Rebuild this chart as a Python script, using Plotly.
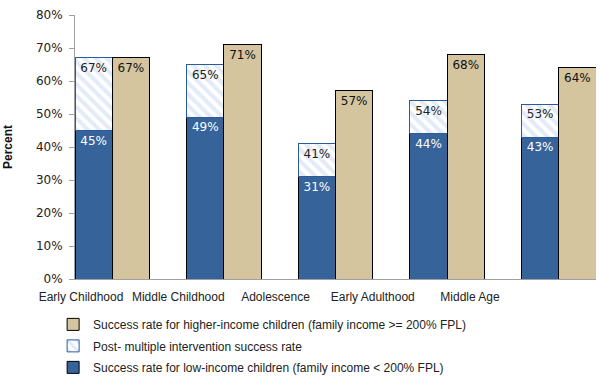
import plotly.graph_objects as go

categories = ["Early Childhood", "Middle Childhood", "Adolescence", "Early Adulthood", "Middle Age"]
low_income = [45, 49, 31, 44, 43]
post_intervention = [67, 65, 41, 54, 53]
higher_income = [67, 71, 57, 68, 64]
y_ticks = [0, 10, 20, 30, 40, 50, 60, 70, 80]
y_tick_labels = [f"{v}%" for v in y_ticks]

n = len(categories)
w = 1 / 3
x_left = [i + w / 2 for i in range(n)]
x_right = [i + 1.5 * w for i in range(n)]
label_pos = [0.054 + 0.871 * i for i in range(n)]
hatch_seg = [p - l for p, l in zip(post_intervention, low_income)]

NUMF = "DejaVu Sans"
TXTF = "Liberation Sans"
fig = go.Figure()
fig.add_trace(go.Bar(
    x=x_left, y=low_income, width=w, legendgroup="a", legendrank=3,
    name="Success rate for low-income children (family income < 200% FPL)",
    marker=dict(color="#36639a", line=dict(color="#000000", width=1)),
    text=[f"{v}%" for v in low_income], textposition="inside", insidetextanchor="end",
    textangle=0, textfont=dict(color="white", size=12, family=NUMF),
))
fig.add_trace(go.Bar(
    x=x_left, y=hatch_seg, width=w, legendgroup="b", legendrank=2,
    name="Post- multiple intervention success rate",
    marker=dict(color="white", line=dict(color="#2a5a9c", width=1),
                pattern=dict(shape="\\", fgcolor="#c5d8f0", bgcolor="white", size=8, solidity=0.5)),
    text=[f"{v}%" for v in post_intervention], textposition="inside", insidetextanchor="end",
    textangle=0, textfont=dict(color="#222222", size=12, family=NUMF),
))
fig.add_trace(go.Bar(
    x=x_right, y=higher_income, width=w, legendgroup="c", legendrank=1,
    name="Success rate for higher-income children (family income >= 200% FPL)",
    marker=dict(color="#d4c59f", line=dict(color="#000000", width=1)),
    text=[f"{v}%" for v in higher_income], textposition="inside", insidetextanchor="end",
    textangle=0, textfont=dict(color="#111111", size=12, family=NUMF),
))

fig.add_annotation(text="<b>Percent</b>", xref="paper", yref="paper", x=-0.1286, y=0.5,
                   xanchor="center", yanchor="middle", textangle=-90, showarrow=False,
                   font=dict(family=TXTF, size=12, color="#111111"))

fig.update_layout(
    width=600, height=376, barmode="stack",
    margin=dict(l=75, r=4, t=15, b=97, autoexpand=False),
    plot_bgcolor="white", paper_bgcolor="white",
    font=dict(family=TXTF, size=12, color="#222222"),
    showlegend=True,
    legend=dict(orientation="v", traceorder="grouped", x=-0.042, xanchor="left",
                y=-0.117, yanchor="top", font=dict(size=12, family=TXTF, color="#222222"),
                tracegroupgap=2.5, bgcolor="rgba(0,0,0,0)"),
    xaxis=dict(range=[0, n - 1 + 2 * w], tickvals=label_pos, ticktext=categories,
               tickangle=0, automargin=False,
               showline=True, linecolor="#a0a0a0", linewidth=1, ticks="", showgrid=False,
               zeroline=False, tickfont=dict(size=12, family=TXTF, color="#222222"),
               ticklabelstandoff=7),
    yaxis=dict(range=[0, 80], tickvals=y_ticks, ticktext=y_tick_labels, automargin=False,
               showline=True, linecolor="#a0a0a0", linewidth=1, ticks="outside",
               ticklen=5, tickcolor="#a0a0a0", showgrid=False, zeroline=False,
               tickfont=dict(size=12, family=NUMF, color="#222222"), ticklabelstandoff=4),
)

fig.write_html("out.html", config={"displayModeBar": False},
               post_script="document.body.style.margin='0';")
